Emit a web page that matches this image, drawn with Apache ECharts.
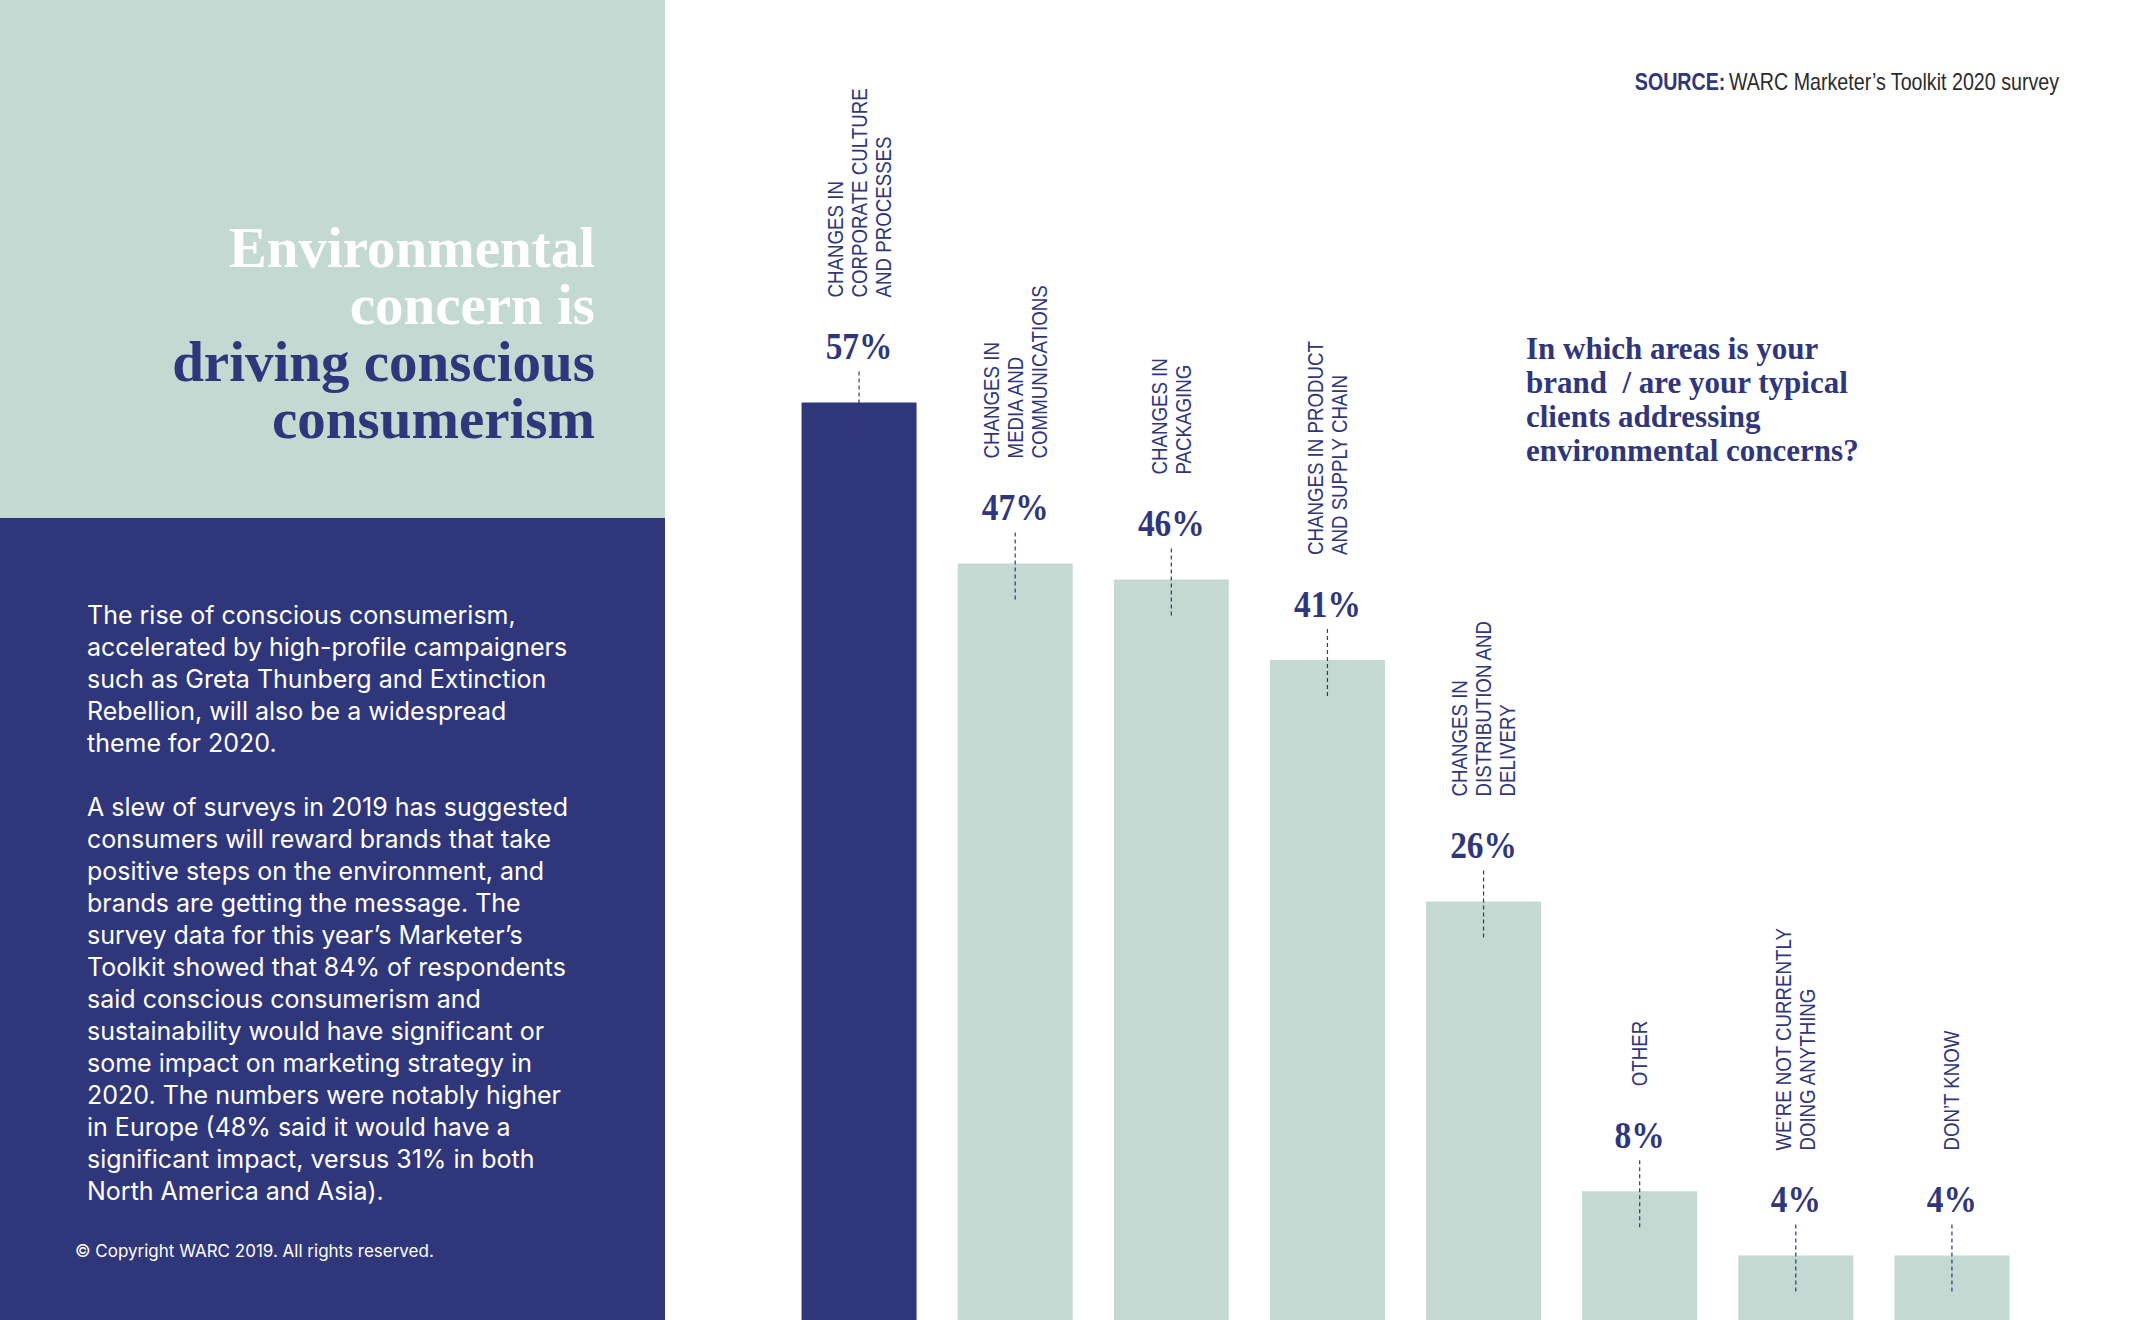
<!DOCTYPE html>
<html>
<head>
<meta charset="utf-8">
<script src="https://cdn.jsdelivr.net/npm/echarts@6/dist/echarts.min.js"></script>
<style>
  html, body { margin: 0; padding: 0; background: #ffffff; }
  #chart { width: 2133px; height: 1320px; }
</style>
</head>
<body>
<div id="chart"></div>
<script>
// ---- data ----
const categories = [
  "CHANGES IN\nCORPORATE CULTURE\nAND PROCESSES",
  "CHANGES IN\nMEDIA AND\nCOMMUNICATIONS",
  "CHANGES IN\nPACKAGING",
  "CHANGES IN PRODUCT\nAND SUPPLY CHAIN",
  "CHANGES IN\nDISTRIBUTION AND\nDELIVERY",
  "OTHER",
  "WE’RE NOT CURRENTLY\nDOING ANYTHING",
  "DON’T KNOW"
];
const values = [57, 47, 46, 41, 26, 8, 4, 4];
const highlightIndex = 0;

const titleWhite = ["Environmental", "concern is"];
const titleNavy = ["driving conscious", "consumerism"];
const bodyLines = [
  "The rise of conscious consumerism,",
  "accelerated by high-profile campaigners",
  "such as Greta Thunberg and Extinction",
  "Rebellion, will also be a widespread",
  "theme for 2020.",
  "",
  "A slew of surveys in 2019 has suggested",
  "consumers will reward brands that take",
  "positive steps on the environment, and",
  "brands are getting the message. The",
  "survey data for this year’s Marketer’s",
  "Toolkit showed that 84% of respondents",
  "said conscious consumerism and",
  "sustainability would have significant or",
  "some impact on marketing strategy in",
  "2020. The numbers were notably higher",
  "in Europe (48% said it would have a",
  "significant impact, versus 31% in both",
  "North America and Asia)."
];
const questionLines = [
  "In which areas is your",
  "brand  / are your typical",
  "clients addressing",
  "environmental concerns?"
];
const copyrightText = "© Copyright WARC 2019. All rights reserved.";
const sourceLabel = "SOURCE:";
const sourceText = "WARC Marketer’s Toolkit 2020 survey";

// ---- style ----
const NAVY = "#30367A";
const LIGHT = "#C3D9D2";
const SERIF = "'Liberation Serif', 'Times New Roman', serif";
const SANS = "'Liberation Sans', Arial, sans-serif";
const BODY = "Inter, 'Noto Sans', sans-serif";

const chart = echarts.init(document.getElementById('chart'), null, { renderer: 'svg' });

const option = {
  backgroundColor: '#ffffff',
  animation: false,
  grid: { left: 781, right: 103, top: 0, bottom: 0 },
  xAxis: {
    type: 'category',
    data: categories,
    axisLine: { show: false },
    axisTick: { show: false },
    axisLabel: { show: false },
    splitLine: { show: false }
  },
  yAxis: {
    type: 'value',
    min: 0,
    max: 82,
    show: false,
    splitLine: { show: false }
  },
  graphic: [
    { type: 'rect', left: 0, top: 0, shape: { width: 665, height: 518 }, style: { fill: LIGHT }, z: 0 },
    { type: 'rect', left: 0, top: 518, shape: { width: 665, height: 802 }, style: { fill: NAVY }, z: 0 },
    {
      type: 'text', x: 595, y: 219, z: 5,
      style: {
        text: titleWhite.join('\n'), fill: '#ffffff', font: 'bold 57px ' + SERIF,
        align: 'right', verticalAlign: 'top', lineHeight: 57
      }
    },
    {
      type: 'text', x: 595, y: 333, z: 5,
      style: {
        text: titleNavy.join('\n'), fill: NAVY, font: 'bold 57px ' + SERIF,
        align: 'right', verticalAlign: 'top', lineHeight: 57
      }
    },
    {
      type: 'text', x: 87, y: 599, z: 5,
      style: {
        text: bodyLines.join('\n'), fill: '#ffffff', font: '25px ' + BODY,
        align: 'left', verticalAlign: 'top', lineHeight: 32
      }
    },
    {
      type: 'text', x: 75, y: 1251, z: 5,
      style: {
        text: copyrightText, fill: '#ffffff', font: '17px ' + BODY,
        align: 'left', verticalAlign: 'middle'
      }
    },
    {
      type: 'text', x: 1526, y: 331, z: 5,
      style: {
        text: questionLines.join('\n'), fill: NAVY, font: 'bold 31px ' + SERIF,
        align: 'left', verticalAlign: 'top', lineHeight: 34
      }
    },
    {
      type: 'text', x: 2059, y: 82, z: 5, scaleX: 0.855,
      style: {
        text: '{b|' + sourceLabel + '} {r|' + sourceText + '}',
        align: 'right', verticalAlign: 'middle',
        rich: {
          b: { font: 'bold 23px ' + SANS, fill: NAVY },
          r: { font: '23px ' + SANS, fill: '#2b2b2b' }
        }
      }
    }
  ],
  series: [
    {
      type: 'bar',
      barWidth: 115,
      z: 2,
      data: values.map((v, i) => ({
        value: v,
        itemStyle: { color: i === highlightIndex ? NAVY : LIGHT }
      }))
    },
    {
      type: 'custom',
      z: 3,
      data: values.map((v, i) => [i, v]),
      renderItem: function (params, api) {
        const i = api.value(0);
        const v = api.value(1);
        const p = api.coord([i, v]);
        return {
          type: 'group',
          children: [
            {
              type: 'line',
              shape: { x1: p[0], y1: p[1] - 31, x2: p[0], y2: p[1] + 36 },
              style: { stroke: NAVY, lineWidth: 1.2, lineDash: [4, 3] }
            },
            {
              type: 'text', x: p[0], y: p[1] - 56, scaleX: 0.88,
              style: {
                text: v + '%', fill: NAVY, font: 'bold 38px ' + SERIF,
                align: 'center', verticalAlign: 'middle'
              }
            },
            {
              type: 'text', x: p[0], y: p[1] - 105, rotation: Math.PI / 2, scaleX: 0.85,
              style: {
                text: categories[i], fill: NAVY, font: '22px ' + SANS,
                align: 'left', verticalAlign: 'middle', lineHeight: 24
              }
            }
          ]
        };
      }
    }
  ]
};

chart.setOption(option);
</script>
</body>
</html>
